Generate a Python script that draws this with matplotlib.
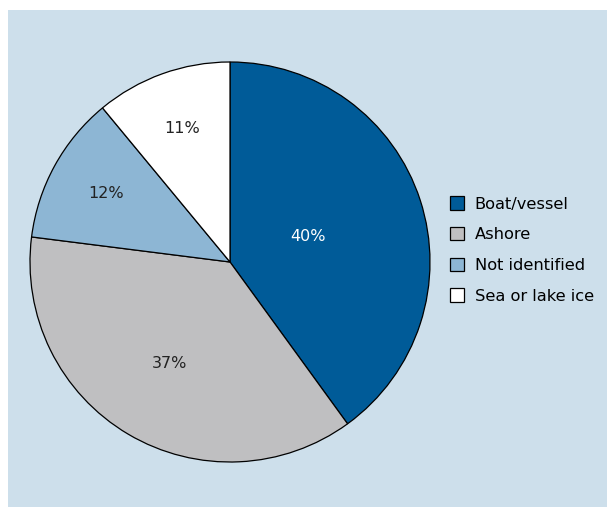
import numpy as np
import matplotlib
matplotlib.use("Agg")
import matplotlib.pyplot as plt
from matplotlib.patches import Rectangle, Patch

plt.rcParams['font.family'] = ['DejaVu Sans']

# data
categories = ['Boat/vessel', 'Ashore', 'Not identified', 'Sea or lake ice']
shares = [40, 37, 12, 11]
colors = ['#005b98', '#bfbfc1', '#8db6d4', '#ffffff']
label_colors = ['white', '#222222', '#222222', '#222222']
label_dist = [0.41, 0.59, 0.71, 0.71]

fig = plt.figure(figsize=(6.07, 5.07), dpi=100)

# light blue panel behind everything
fig.patches.append(Rectangle((8 / 607, 0), 1 - 8 / 607, 1 - 10 / 507,
                             transform=fig.transFigure, facecolor='#cddfeb',
                             edgecolor='none', zorder=-10))

ax = fig.add_axes([28 / 607, 43 / 507, 404 / 607, 404 / 507])
wedges, _ = ax.pie(shares, colors=colors, startangle=90, counterclock=False,
                   radius=1, wedgeprops={'edgecolor': 'black', 'linewidth': 0.9})
ax.set_xlim(-1.01, 1.01)
ax.set_ylim(-1.01, 1.01)
ax.set_aspect('equal')
ax.axis('off')

# percentage labels
for w, val, d, c in zip(wedges, shares, label_dist, label_colors):
    ang = np.deg2rad((w.theta1 + w.theta2) / 2)
    ax.text(d * np.cos(ang), d * np.sin(ang), f'{val}%', ha='center',
            va='center', fontsize=11.5, color=c)

handles = [Patch(facecolor=c, edgecolor='black', linewidth=0.9) for c in colors]
fig.legend(handles, categories, loc='center left',
           bbox_to_anchor=(450 / 607, 257 / 507), frameon=False,
           fontsize=11.7, borderpad=0, borderaxespad=0,
           handlelength=0.87, handleheight=0.87, handletextpad=0.65,
           labelspacing=0.95)

fig.savefig('out.png', dpi=100)
